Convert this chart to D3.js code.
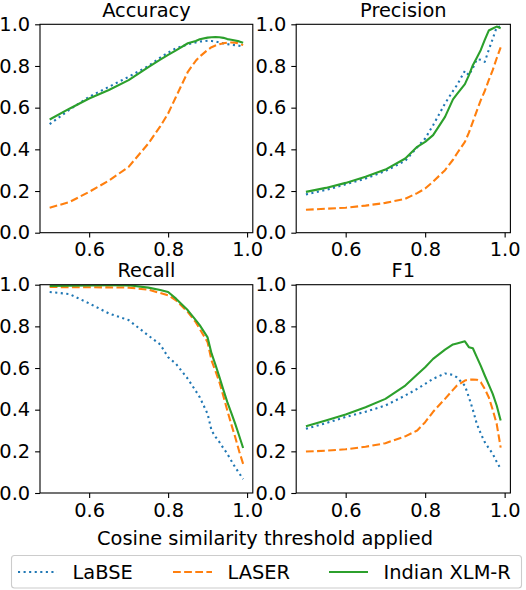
<!DOCTYPE html>
<html>
<head>
<meta charset="utf-8">
<script src="https://cdn.jsdelivr.net/npm/d3@7"></script>
<style>
  body { margin: 0; background: #fff; }
  svg { display: block; font-family: 'DejaVu Sans', sans-serif; }
</style>
</head>
<body>
<script>
const width = 526
const height = 590

// thresholds on the x axis
const thresholds = [0.50, 0.55, 0.60, 0.65, 0.70, 0.75, 0.78, 0.80, 0.82, 0.85, 0.87,
  0.88, 0.90, 0.91, 0.92, 0.93, 0.94, 0.95, 0.96, 0.97, 0.98, 0.99]

const accuracyLabse = [0.521, 0.59, 0.652, 0.70, 0.748, 0.80, 0.84, 0.864, 0.885, 0.904, 0.913,
  0.917, 0.921, 0.92, 0.917, 0.913, 0.908, 0.905, 0.902, 0.90, 0.897, 0.893]
const accuracyLaser = [0.12, 0.147, 0.196, 0.25, 0.316, 0.428, 0.51, 0.572, 0.652, 0.772, 0.825,
  0.845, 0.877, 0.89, 0.898, 0.904, 0.909, 0.912, 0.913, 0.912, 0.907, 0.90]
const accuracyXlmr = [0.543, 0.595, 0.644, 0.685, 0.732, 0.795, 0.83, 0.853, 0.875, 0.909, 0.92,
  0.928, 0.936, 0.938, 0.939, 0.938, 0.935, 0.929, 0.926, 0.922, 0.918, 0.912]

const precisionLabse = [0.184, 0.205, 0.232, 0.26, 0.296, 0.345, 0.41, 0.452, 0.516, 0.62, 0.68,
  0.708, 0.777, 0.756, 0.79, 0.832, 0.83, 0.82, 0.877, 0.93, 0.986, 0.99]
const precisionLaser = [0.11, 0.115, 0.12, 0.13, 0.143, 0.163, 0.19, 0.212, 0.245, 0.30, 0.35,
  0.38, 0.436, 0.48, 0.532, 0.585, 0.636, 0.68, 0.732, 0.78, 0.837, 0.889]
const precisionXlmr = [0.196, 0.215, 0.239, 0.268, 0.303, 0.356, 0.412, 0.436, 0.468, 0.556, 0.64,
  0.665, 0.713, 0.755, 0.804, 0.84, 0.877, 0.925, 0.97, 0.98, 0.989, 0.981]

const recallLabse = [0.965, 0.955, 0.91, 0.862, 0.83, 0.756, 0.713, 0.652, 0.62, 0.548, 0.49,
  0.46, 0.38, 0.30, 0.27, 0.244, 0.215, 0.188, 0.155, 0.123, 0.095, 0.067]
const recallLaser = [0.989, 0.988, 0.988, 0.987, 0.986, 0.976, 0.96, 0.949, 0.925, 0.869, 0.82,
  0.788, 0.724, 0.636, 0.585, 0.532, 0.465, 0.396, 0.33, 0.268, 0.20, 0.14]
const recallXlmr = [0.994, 0.995, 0.996, 0.997, 0.997, 0.986, 0.975, 0.965, 0.933, 0.877, 0.83,
  0.806, 0.747, 0.67, 0.615, 0.556, 0.495, 0.436, 0.385, 0.332, 0.275, 0.216]

const f1Labse = [0.308, 0.335, 0.365, 0.39, 0.42, 0.468, 0.50, 0.524, 0.548, 0.574, 0.567,
  0.555, 0.515, 0.46, 0.40, 0.332, 0.285, 0.244, 0.215, 0.188, 0.15, 0.115]
const f1Laser = [0.199, 0.203, 0.21, 0.222, 0.239, 0.272, 0.30, 0.34, 0.39, 0.452, 0.495,
  0.516, 0.54, 0.544, 0.545, 0.544, 0.532, 0.50, 0.46, 0.40, 0.332, 0.218]
const f1Xlmr = [0.321, 0.348, 0.377, 0.412, 0.452, 0.516, 0.569, 0.604, 0.644, 0.688, 0.713,
  0.718, 0.728, 0.70, 0.695, 0.652, 0.61, 0.564, 0.52, 0.476, 0.42, 0.348]

const metricNames = ['Accuracy', 'Precision', 'Recall', 'F1']
const modelNames = ['LaBSE', 'LASER', 'Indian XLM-R']
const xTicks = [0.6, 0.8, 1.0]
const yTicks = [0.0, 0.2, 0.4, 0.6, 0.8, 1.0]
const xLabel = 'Cosine similarity threshold applied'

const metricValues = [
  [accuracyLabse, accuracyLaser, accuracyXlmr],
  [precisionLabse, precisionLaser, precisionXlmr],
  [recallLabse, recallLaser, recallXlmr],
  [f1Labse, f1Laser, f1Xlmr],
]

const colors = ['#1f77b4', '#ff7f0e', '#2ca02c']
const lw = 2.1
const dashes = [`${lw} ${1.65 * lw}`, `${3.7 * lw} ${1.6 * lw}`, null]
const fontSize = 19.4

const cols = [[40, 252.8], [296.2, 510.4]]
const rows = [[24.3, 232.7], [284.7, 493]]

const svg = d3
  .select('body')
  .append('svg')
  .attr('width', width)
  .attr('height', height)
  .attr('viewBox', [0, 0, width, height])

metricNames.forEach((name, i) => {
  const [x0, x1] = cols[i % 2]
  const [y0, y1] = rows[Math.floor(i / 2)]

  const x = d3.scaleLinear().domain([0.4755, 1.0145]).range([x0, x1])
  const y = d3.scaleLinear().domain([0, 1]).range([y1, y0])

  const g = svg.append('g')

  g.append('clipPath')
    .attr('id', `clip${i}`)
    .append('rect')
    .attr('x', x0)
    .attr('y', y0)
    .attr('width', x1 - x0)
    .attr('height', y1 - y0)

  const line = d3
    .line()
    .x((d, j) => x(thresholds[j]))
    .y(d => y(d))

  g.append('g')
    .attr('clip-path', `url(#clip${i})`)
    .selectAll('path')
    .data(metricValues[i])
    .join('path')
    .attr('d', line)
    .attr('fill', 'none')
    .attr('stroke', (d, k) => colors[k])
    .attr('stroke-width', lw)
    .attr('stroke-dasharray', (d, k) => dashes[k])
    .attr('stroke-linejoin', 'round')

  const styleAxis = a =>
    a
      .call(a => a.select('.domain').remove())
      .call(a => a.selectAll('.tick line').attr('stroke', '#000').attr('stroke-width', 1.1))
      .call(a =>
        a
          .selectAll('.tick text')
          .attr('fill', '#000')
          .style('font-size', `${fontSize}px`)
          .style('font-family', "'DejaVu Sans', sans-serif")
      )

  g.append('g')
    .attr('transform', `translate(0,${y1})`)
    .call(
      d3.axisBottom(x).tickValues(xTicks).tickSize(4.9).tickPadding(4.9).tickFormat(d3.format('.1f'))
    )
    .call(styleAxis)

  g.append('g')
    .attr('transform', `translate(${x0},0)`)
    .call(
      d3.axisLeft(y).tickValues(yTicks).tickSize(4.9).tickPadding(4.9).tickFormat(d3.format('.1f'))
    )
    .call(styleAxis)

  g.append('rect')
    .attr('x', x0)
    .attr('y', y0)
    .attr('width', x1 - x0)
    .attr('height', y1 - y0)
    .attr('fill', 'none')
    .attr('stroke', '#000')
    .attr('stroke-width', 1.1)

  g.append('text')
    .attr('x', (x0 + x1) / 2)
    .attr('y', y0 - 7.5)
    .attr('text-anchor', 'middle')
    .style('font-size', `${fontSize}px`)
    .text(name)
})

svg
  .append('text')
  .attr('x', 265)
  .attr('y', 545)
  .attr('text-anchor', 'middle')
  .style('font-size', `${fontSize}px`)
  .text(xLabel)

// legend
const legend = svg.append('g')
legend
  .append('rect')
  .attr('x', 11.5)
  .attr('y', 555.5)
  .attr('width', 510)
  .attr('height', 32.5)
  .attr('rx', 3)
  .attr('fill', '#fff')
  .attr('stroke', '#cccccc')
  .attr('stroke-width', 1.1)

const legendX = [18, 173, 329]
const items = legend
  .selectAll('g.item')
  .data(modelNames)
  .join('g')
  .attr('class', 'item')
  .attr('transform', (d, k) => `translate(${legendX[k]},572)`)

items
  .append('line')
  .attr('x1', 0)
  .attr('x2', 39)
  .attr('stroke', (d, k) => colors[k])
  .attr('stroke-width', lw)
  .attr('stroke-dasharray', (d, k) => dashes[k])

items
  .append('text')
  .attr('x', 54.5)
  .attr('y', 7)
  .style('font-size', `${fontSize}px`)
  .text(d => d)
</script>
</body>
</html>
